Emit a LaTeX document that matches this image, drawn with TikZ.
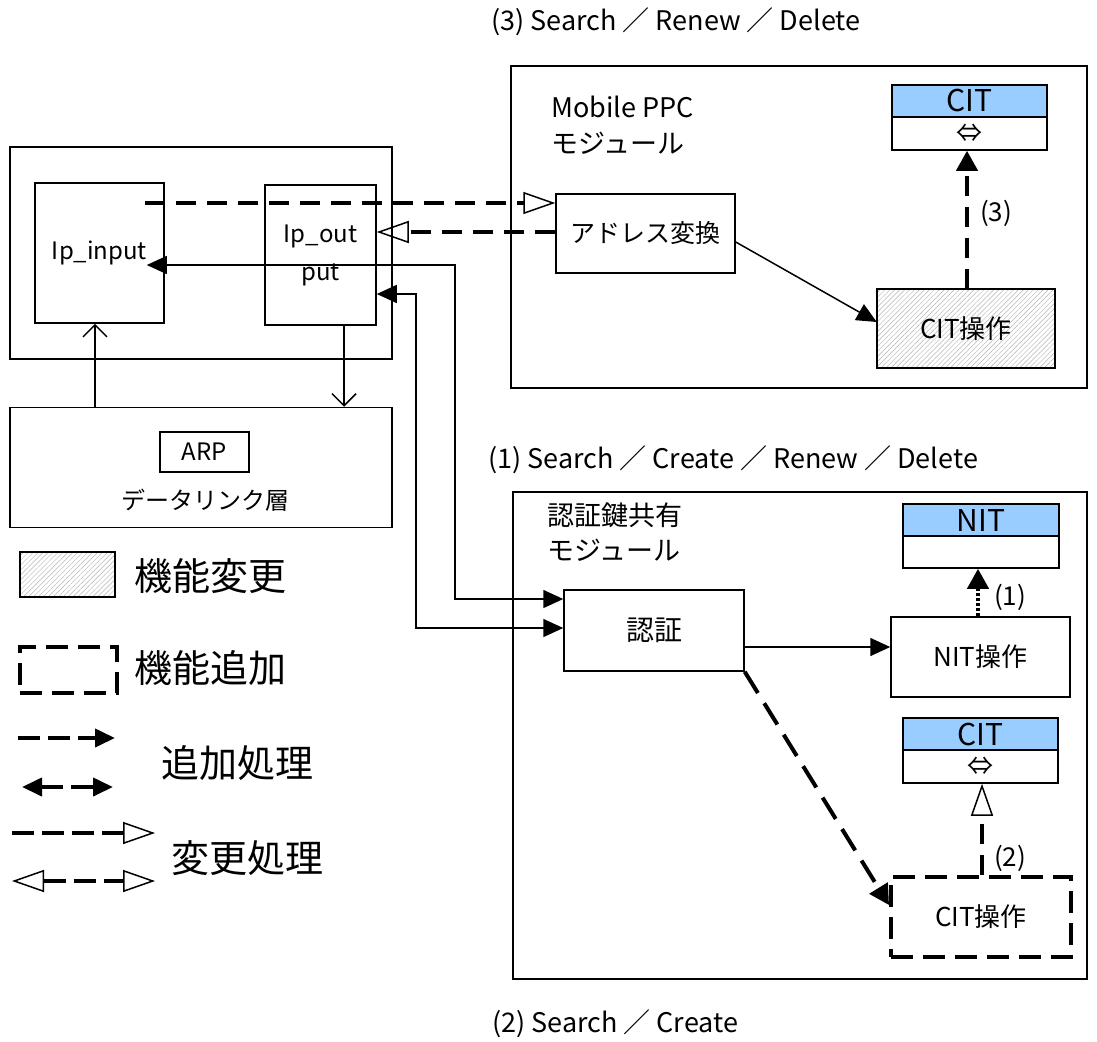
\documentclass[tikz,border=0pt]{standalone}
\usepackage{fontspec}
\setmainfont{Noto Sans CJK JP}
\usetikzlibrary{arrows.meta,patterns.meta}
\definecolor{citblue}{RGB}{153,204,255}
\tikzset{
  txt/.style={font=\fontsize{#1}{#1}\selectfont, inner sep=0pt},
  box/.style={draw, line width=1.5pt, inner sep=0pt},
  hatchbox/.style={box, pattern={Lines[angle=45,distance=3.5pt,line width=0.45pt]}, pattern color=gray!60},
  dashbox/.style={draw, line width=4pt, dash pattern=on 22pt off 10pt, inner sep=0pt},
  hdr/.style={box, fill=citblue, font=\fontsize{30}{32}\selectfont},
  conn/.style={line width=1.5pt},
  adddash/.style={line width=4pt, dash pattern=on 20pt off 11pt},
  dotdash/.style={line width=4pt, dash pattern=on 3pt off 2pt},
  ftri/.tip={Triangle[length=20pt,width=18pt]},
  ftrib/.tip={Triangle[length=20pt,width=21pt]},
  otri/.tip={Triangle[open,length=32pt,width=22pt,line width=1.5pt]},
  vbarb/.tip={Straight Barb[length=12pt,width=24pt,line width=1.5pt]},
}
\begin{document}
\begin{tikzpicture}[x=1pt,y=-1pt]
\useasboundingbox (0,0) rectangle (1097,1041);

% titles
\node[txt=27, anchor=west] (t3) at (491,22) {(3) Search ／ Renew ／ Delete};
\node[txt=27, anchor=west] (t1) at (488,460) {(1) Search ／ Create ／ Renew ／ Delete};
\node[txt=27, anchor=west] (t2) at (492,1024) {(2) Search ／ Create};

% left stack
\node[box, minimum width=382pt, minimum height=212pt] (outer) at (201,253) {};
\node[box, minimum width=129pt, minimum height=140pt, font=\fontsize{24}{28}\selectfont] (ipin) at (99.5,253) {Ip\_input};
\node[box, minimum width=111pt, minimum height=140pt, align=center, font=\fontsize{24}{38}\selectfont] (ipout) at (320.5,255) {Ip\_out\\put};
\node[box, minimum width=382pt, minimum height=120pt] (dl) at (201,467.5) {};
\node[box, minimum width=89pt, minimum height=40pt, font=\fontsize{24}{28}\selectfont] (arp) at (204.5,452) {ARP};
\node[txt=24] (dltext) at (205,500) {データリンク層};

% Mobile PPC module
\node[box, minimum width=576pt, minimum height=322pt] (mob) at (799,227) {};
\node[txt=27, anchor=west] (mobt1) at (551,107) {Mobile PPC};
\node[txt=27, anchor=west] (mobt2) at (551,143) {モジュール};
\node[hdr, minimum width=155pt, minimum height=32pt] (cit1h) at (969.5,101) {CIT};
\node[box, minimum width=155pt, minimum height=33pt, font=\fontsize{26}{28}\selectfont] (cit1b) at (969.5,133.5) {⇔};
\node[box, minimum width=179pt, minimum height=79pt, font=\fontsize{25}{28}\selectfont] (addr) at (645.5,233.5) {アドレス変換};
\node[hatchbox, minimum width=178pt, minimum height=79pt, font=\fontsize{26}{28}\selectfont] (citop1) at (966,328.5) {CIT操作};
\node[txt=26] (l3) at (996,213) {(3)};

% auth module
\node[box, minimum width=574pt, minimum height=487pt] (authm) at (800,735.5) {};
\node[txt=27, anchor=west] (autht1) at (547,515) {認証鍵共有};
\node[txt=27, anchor=west] (autht2) at (547,550) {モジュール};
\node[hdr, minimum width=156pt, minimum height=32pt] (nith) at (981,520) {NIT};
\node[box, minimum width=156pt, minimum height=32pt] (nitb) at (981,552) {};
\node[box, minimum width=180pt, minimum height=81pt, font=\fontsize{28}{30}\selectfont] (auth) at (654,630.5) {認証};
\node[box, minimum width=179pt, minimum height=80pt, font=\fontsize{26}{28}\selectfont] (nitop) at (980.5,657) {NIT操作};
\node[hdr, minimum width=155pt, minimum height=32pt] (cit2h) at (980.5,734) {CIT};
\node[box, minimum width=155pt, minimum height=33pt, font=\fontsize{26}{28}\selectfont] (cit2b) at (980.5,766.5) {⇔};
\node[dashbox, minimum width=180pt, minimum height=80pt, font=\fontsize{26}{28}\selectfont] (citop2) at (981,917) {CIT操作};
\node[txt=26] (l1) at (1010,597) {(1)};
\node[txt=26] (l2) at (1010,858) {(2)};

% legend
\node[hatchbox, minimum width=95pt, minimum height=45pt] (lg1) at (67.5,574.5) {};
\node[txt=38, anchor=west] (lg1t) at (134,576) {機能変更};
\node[dashbox, minimum width=97pt, minimum height=46pt] (lg2) at (68.5,670) {};
\node[txt=38, anchor=west] (lg2t) at (134,668) {機能追加};
\node[txt=38, anchor=west] (lg3t) at (161,763) {追加処理};
\node[txt=38, anchor=west] (lg4t) at (171,858) {変更処理};
\coordinate (la1s) at (18,738);  \coordinate (la1e) at (115,738);
\coordinate (la2s) at (22,787);  \coordinate (la2e) at (113,787);
\coordinate (la3s) at (12,833);  \coordinate (la3e) at (155,833);
\coordinate (la4s) at (12,881);  \coordinate (la4e) at (155,881);
\draw[adddash, dash pattern=on 22pt off 8pt, -{ftri}] (la1s) -- (la1e);
\draw[adddash, dash pattern=on 22pt off 8pt, {ftri}-{ftri}] (la2s) -- (la2e);
\draw[adddash, dash pattern=on 22pt off 8pt, -{otri}] (la3s) -- (la3e);
\draw[adddash, dash pattern=on 22pt off 8pt, {otri}-{otri}] (la4s) -- (la4e);

% connectors
\draw[conn, -{vbarb}] (95,0 |- dl.north) -- (95,0 |- ipin.south);
\draw[conn, -{vbarb}] (344,0 |- ipout.south) -- (344,0 |- dl.north);
\coordinate (s1) at (145,203);
\draw[adddash, -{otri}] (s1) -- (s1 -| addr.west);
\draw[adddash, -{otri}] (addr.west |- 0,232) -- (ipout.east |- 0,232);
\coordinate (ipinT) at ([xshift=-18pt]ipin.east);
\draw[conn, {ftri}-{ftri}] (ipinT |- 0,265) -| (455,599) -- (auth.west |- 0,599);
\draw[conn, {ftri}-{ftri}] (ipout.east |- 0,294) -| (416,628) -- (auth.west |- 0,628);
\draw[conn, -{ftri}] (addr.east |- 0,242) -- (citop1.west |- 0,322);
\draw[adddash, -{ftrib}] (967,0 |- citop1.north) -- (967,0 |- cit1b.south);
\draw[conn, -{ftri}] (auth.east |- 0,647) -- (nitop.west |- 0,647);
\draw[dotdash, -{ftrib}] (978,0 |- nitop.north) -- (978,0 |- nitb.south);
\draw[adddash, dash pattern=on 25pt off 12pt, -{ftrib}] (auth.south east) -- (citop2.west |- 0,905);
\draw[adddash, -{otri}] (982,0 |- citop2.north) -- (982,0 |- cit2b.south);
\end{tikzpicture}
\end{document}
